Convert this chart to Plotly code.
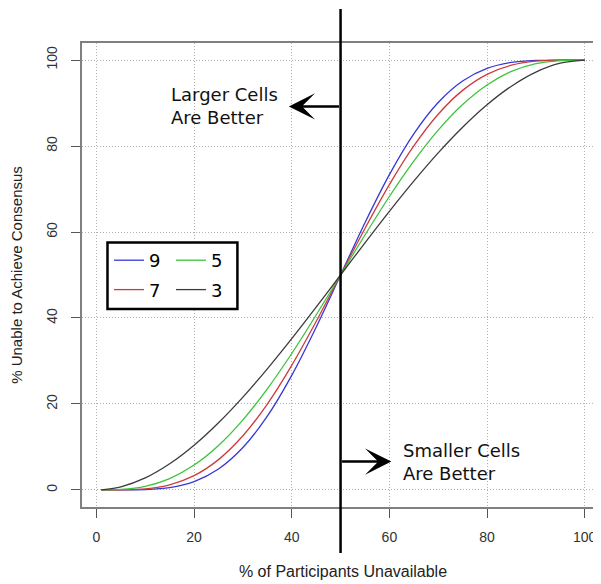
import plotly.graph_objects as go

# % of participants unavailable
pct_unavailable = [1, 5, 10, 15, 20, 25, 30, 35, 40, 45, 50,
                   55, 60, 65, 70, 75, 80, 85, 90, 95, 100]

# % unable to achieve consensus, by cell size
cell_9 = [0.0, 0.003, 0.09, 0.56, 1.96, 4.89, 9.88, 17.17, 26.66, 37.86, 50.0,
          62.14, 73.34, 82.83, 90.12, 95.11, 98.04, 99.44, 99.91, 99.997, 100.0]
cell_7 = [0.0, 0.02, 0.27, 1.21, 3.33, 7.06, 12.60, 19.98, 28.98, 39.17, 50.0,
          60.83, 71.02, 80.02, 87.40, 92.94, 96.67, 98.79, 99.73, 99.98, 100.0]
cell_5 = [0.0, 0.12, 0.86, 2.66, 5.79, 10.35, 16.31, 23.52, 31.74, 40.69, 50.0,
          59.31, 68.26, 76.48, 83.69, 89.65, 94.21, 97.34, 99.14, 99.88, 100.0]
cell_3 = [0.03, 0.73, 2.8, 6.08, 10.4, 15.63, 21.6, 28.18, 35.2, 42.53, 50.0,
          57.47, 64.8, 71.82, 78.4, 84.37, 89.6, 93.92, 97.2, 99.27, 100.0]

series_names = ["9", "7", "5", "3"]
series_values = [cell_9, cell_7, cell_5, cell_3]
series_colors = ["rgb(55,55,215)", "rgb(205,60,60)", "rgb(60,195,60)", "rgb(60,60,60)"]
series_legend = ["legend", "legend", "legend2", "legend2"]

x_ticks = [0, 20, 40, 60, 80, 100]
y_ticks = [0, 20, 40, 60, 80, 100]

X_RANGE = [-2.96, 103.96]
Y_RANGE = [-3.96, 103.96]
W, H = 601, 584
OFF = 8  # page body margin
# plot area in page pixels: left 82, top 43, bottom 507, right ~604
ML, MT = 82 - OFF, 43 - OFF
PW = 4.885 * (X_RANGE[1] - X_RANGE[0])
PH = 507 - 43
MR = W - ML - PW
MB = H - MT - PH


def px_to_paper_x(px):
    return (px - OFF - ML) / PW


def px_to_paper_y(py):
    return (OFF + MT + PH - py) / PH


fig = go.Figure()
for name, vals, col, leg in zip(series_names, series_values, series_colors, series_legend):
    fig.add_trace(go.Scatter(
        x=pct_unavailable, y=vals, mode="lines", name=name,
        line=dict(color=col, width=1.3, shape="spline", smoothing=0.8),
        legend=leg, legendgroup=name, hoverinfo="x+y+name",
    ))

divider = 50
x_div_paper = (divider - X_RANGE[0]) / (X_RANGE[1] - X_RANGE[0])

shapes = [
    dict(type="line", xref="paper", yref="paper",
         x0=x_div_paper, x1=x_div_paper,
         y0=px_to_paper_y(553), y1=px_to_paper_y(9),
         line=dict(color="black", width=2.5), layer="above"),
    dict(type="rect", xref="paper", yref="paper",
         x0=px_to_paper_x(107.5), x1=px_to_paper_x(237.5),
         y0=px_to_paper_y(309), y1=px_to_paper_y(242.5),
         line=dict(color="black", width=2.5), fillcolor="white", layer="above"),
]

arrow_style = dict(text="", showarrow=True, arrowhead=3, arrowsize=1.75, arrowwidth=2.5,
                   arrowcolor="black", standoff=0, startstandoff=0,
                   xref="x", yref="y", axref="x", ayref="y")
annotations = [
    dict(x=39.4, y=89.2, ax=divider, ay=89.2, **arrow_style),
    dict(x=60.4, y=6.6, ax=divider, ay=6.6, **arrow_style),
    dict(x=14.8, y=89.2, xref="x", yref="y", text="Larger Cells<br>Are Better",
         showarrow=False, xanchor="left", yanchor="middle", align="left",
         font=dict(family="DejaVu Sans", size=18, color="#111")),
    dict(x=62.3, y=6.5, xref="x", yref="y", text="Smaller Cells<br>Are Better",
         showarrow=False, xanchor="left", yanchor="middle", align="left",
         font=dict(family="DejaVu Sans", size=18, color="#111")),
]

axis_common = dict(
    showgrid=True, gridcolor="#b0b0b0", griddash="1px,2px", gridwidth=1,
    zeroline=False, showline=True, linecolor="#808080", linewidth=2,
    ticks="outside", ticklen=9, tickwidth=1, tickcolor="#555",
    tickfont=dict(family="Liberation Sans", size=14, color="#333"),
)

fig.update_layout(
    width=W, height=H,
    margin=dict(l=ML, r=MR, t=MT, b=MB, autoexpand=False),
    plot_bgcolor="white", paper_bgcolor="white",
    showlegend=True,
    xaxis=dict(range=X_RANGE, tickvals=x_ticks, mirror=True, ticklabelstandoff=7,
               title=dict(text="% of Participants Unavailable", standoff=22,
                          font=dict(family="Liberation Sans", size=16, color="#222")),
               **axis_common),
    yaxis=dict(range=Y_RANGE, tickvals=y_ticks, tickangle=-90, ticklabelstandoff=8,
               title=dict(text="% Unable to Achieve Consensus", standoff=22,
                          font=dict(family="Liberation Sans", size=15, color="#222")),
               **axis_common),
    legend=dict(x=px_to_paper_x(109), y=px_to_paper_y(242), xanchor="left", yanchor="top",
                bgcolor="rgba(0,0,0,0)", borderwidth=0, tracegroupgap=3,
                font=dict(family="DejaVu Sans", size=18, color="black")),
    legend2=dict(x=px_to_paper_x(171), y=px_to_paper_y(242), xanchor="left", yanchor="top",
                 bgcolor="rgba(0,0,0,0)", borderwidth=0, tracegroupgap=3,
                 font=dict(family="DejaVu Sans", size=18, color="black")),
    shapes=shapes,
    annotations=annotations,
)

fig.write_html("out.html")
